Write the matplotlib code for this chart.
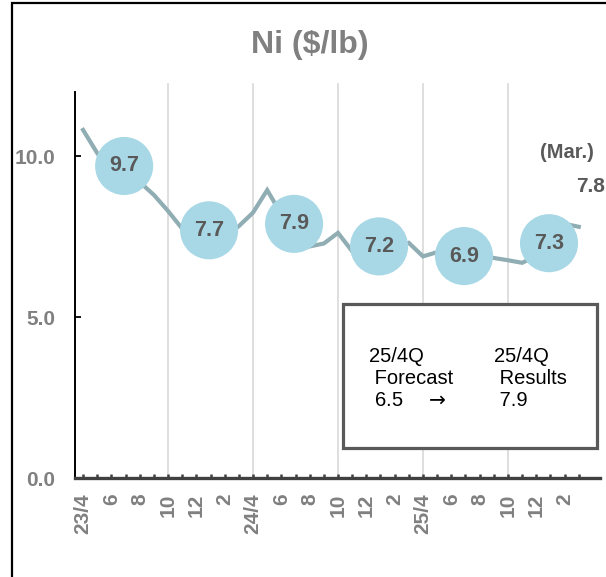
import matplotlib
matplotlib.use("Agg")
import matplotlib.pyplot as plt
from matplotlib.patches import Rectangle
import numpy as np

plt.rcParams['font.family'] = ['Liberation Sans', 'DejaVu Sans']

# ---- data ----
months = ['23/4', '5', '6', '7', '8', '9', '10', '11', '12', '1', '2', '3',
          '24/4', '5', '6', '7', '8', '9', '10', '11', '12', '1', '2', '3',
          '25/4', '5', '6', '7', '8', '9', '10', '11', '12', '1', '2', '3']
prices = [10.82, 10.1, 9.5, 9.5, 9.2, 8.8, 8.3, 7.75, 7.4, 7.35, 7.5, 7.83,
          8.25, 8.95, 8.2, 7.4, 7.2, 7.29, 7.62, 7.05, 7.1, 7.0, 7.1, 7.31,
          6.89, 7.02, 6.8, 6.9, 6.95, 6.84, 6.77, 6.69, 6.9, 7.8, 7.9, 7.81]
half_avg = [9.7, 7.7, 7.9, 7.2, 6.9, 7.3]
half_start = [0, 6, 12, 18, 24, 30]
yticks = [0.0, 5.0, 10.0]
last_label = '(Mar.)'
last_value = 7.8
box_left = '25/4Q\n Forecast\n 6.5    $\\rightarrow$'
box_right = '25/4Q\n Results\n 7.9'
title = 'Ni ($/lb)'

LINE = '#8FADB3'
CIRCLE = '#A8D8E6'
DARK = '#595959'
GRAY = '#808080'

fig = plt.figure(figsize=(6.06, 5.77), dpi=100)
ax = fig.add_axes([75/606, 1-478/577, 525/606, 386/577])

x = np.arange(len(prices))

# half-year gridlines
for s in half_start[1:]:
    ax.axvline(s, ymin=0, ymax=1.02, color='#D9D9D9', lw=1.2, zorder=0, clip_on=False)

# info box
ax.add_patch(Rectangle((0.5105, 0.078), 0.4835, 0.373, transform=ax.transAxes,
                       facecolor='white', edgecolor=DARK, lw=2.3, zorder=1))
ax.text(0.560, 0.257, box_left, transform=ax.transAxes, fontsize=14.5,
        color='black', va='center', ha='left', linespacing=1.2, zorder=2)
ax.text(0.798, 0.257, box_right, transform=ax.transAxes, fontsize=14.5,
        color='black', va='center', ha='left', linespacing=1.2, zorder=2)

# price line
ax.plot(x, prices, color=LINE, lw=3.0, solid_joinstyle='miter', zorder=3)

# half-year average circles
cx = [s + 2.9 for s in half_start]
ax.scatter(cx, half_avg, s=1750, color=CIRCLE, edgecolors='none', zorder=4)
for xi, v in zip(cx, half_avg):
    ax.text(xi, v, f'{v:.1f}', ha='center', va='center', fontsize=15.5,
            fontweight='bold', color=DARK, zorder=5)

# last value labels
ax.text(len(prices) - 1.8, 10.12, last_label, ha='center', va='center',
        fontsize=14.5, fontweight='bold', color=DARK)
ax.text(len(prices) - 0.2, 9.07, f'{last_value:.1f}', ha='center', va='center',
        fontsize=15, fontweight='bold', color=DARK)

ax.set_xlim(-0.57, 36.5)
ax.set_ylim(0, 12)

ax.set_yticks(yticks)
ax.set_yticklabels([f'{t:.1f}' for t in yticks], fontsize=15, fontweight='bold', color=GRAY)
ax.tick_params(axis='y', direction='in', length=4, width=1.3, color='black', pad=14)

labels = [m if i % 2 == 0 else '' for i, m in enumerate(months)]
ax.set_xticks(x)
ax.set_xticklabels(labels, rotation=90, fontsize=15, fontweight='bold', color=GRAY)
ax.tick_params(axis='x', direction='in', length=2.8, width=1.8, color='#404040', pad=11)

for sp in ['top', 'right']:
    ax.spines[sp].set_visible(False)
ax.spines['left'].set_color('black')
ax.spines['left'].set_linewidth(1.4)
ax.spines['bottom'].set_color('#404040')
ax.spines['bottom'].set_linewidth(2.4)
ax.spines['bottom'].set_zorder(6)

fig.text(310/606, 1-45/577, title, ha='center', va='center', fontsize=23,
         fontweight='bold', color=GRAY)

# outer frame
fig.patches.append(Rectangle((11.5/606, -0.05), 1.2, 1.05 - 2.5/577,
                             transform=fig.transFigure, fill=False,
                             edgecolor='black', lw=1.6))

fig.savefig('out.png', dpi=100)
